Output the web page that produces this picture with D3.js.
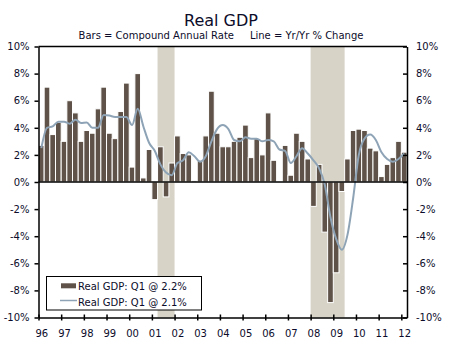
<!DOCTYPE html>
<html>
<head>
<meta charset="utf-8">
<script src="https://cdn.jsdelivr.net/npm/d3@7"></script>
<style>
  body { margin: 0; background: #fff; }
  text { font-family: Verdana, "DejaVu Sans", sans-serif; fill: #0c0c2a; }
</style>
</head>
<body>
<div id="chart"></div>
<script>
// quarterly real GDP, 1996 Q1 .. 2012 Q1
const startYear = 1996;
const years = d3.range(1996, 2013);
const yearLabels = ['96','97','98','99','00','01','02','03','04','05','06','07','08','09','10','11','12'];

// compound annual rate (bars)
const barValues = [
  2.7, 7.0, 3.5, 4.4,   // 96
  3.0, 6.0, 5.1, 3.0,   // 97
  3.8, 3.6, 5.4, 7.0,   // 98
  3.6, 3.2, 5.2, 7.3,   // 99
  1.1, 8.0, 0.3, 2.4,   // 00
  -1.3, 2.6, -1.1, 1.4, // 01
  3.4, 2.1, 2.0, 0.1,   // 02
  1.6, 3.4, 6.7, 3.6,   // 03
  2.6, 2.6, 3.0, 3.3,   // 04
  4.2, 1.8, 3.2, 2.0,   // 05
  5.1, 1.6, 0.0, 2.7,   // 06
  0.5, 3.6, 3.0, 1.7,   // 07
  -1.8, 1.3, -3.7, -8.9,// 08
  -6.7, -0.7, 1.7, 3.8, // 09
  3.9, 3.8, 2.5, 2.3,   // 10
  0.4, 1.3, 1.8, 3.0,   // 11
  2.2                   // 12
];

// year over year % change (line)
const lineValues = [
  2.5, 4.0, 4.1, 4.45,
  4.45, 4.3, 4.6, 4.35,
  4.4, 4.0, 4.0, 4.95,
  4.9, 4.8, 4.8, 4.8,
  4.2, 5.4, 4.1, 2.9,
  2.3, 1.3, 0.7, 0.5,
  1.4, 1.6, 2.2, 1.9,
  1.5, 1.9, 3.0, 3.9,
  4.2, 3.9, 3.1, 3.0,
  3.3, 3.2, 3.2, 3.0,
  3.1, 3.0, 2.4, 2.3,
  1.4, 1.9, 2.5, 2.1,
  1.6, 1.0, -0.2, -2.6,
  -4.2, -5.0, -3.9, -1.2,
  2.0, 3.2, 3.5, 3.1,
  2.2, 1.7, 1.5, 1.7,
  2.1
];

// recessions: first and last quarter index shaded
const recessions = [[21, 23], [48, 53]];

const yTicks = d3.range(-10, 11, 2);
const legendLabels = ['Real GDP: Q1 @ 2.2%', 'Real GDP: Q1 @ 2.1%'];

const width = 471, height = 350;
const margin = {top: 46.5, right: 64, bottom: 32.5, left: 38.5};

const barColor = '#5f5248';
const lineColor = '#8ea4b6';
const shadeColor = '#d7d3c7';

const svg = d3.select('#chart').append('svg')
  .attr('width', width)
  .attr('height', height);

const nq = barValues.length;
const xScale = d3.scaleLinear()
  .domain([startYear, startYear + nq / 4])
  .range([margin.left, width - margin.right]);
const yScale = d3.scaleLinear()
  .domain([-10, 10])
  .range([height - margin.bottom, margin.top]);

const qStart = i => xScale(startYear + i / 4);
const qw = qStart(1) - qStart(0);

// recession shading
svg.append('g')
  .selectAll('rect')
  .data(recessions)
  .join('rect')
  .attr('x', d => qStart(d[0]))
  .attr('width', d => qStart(d[1] + 1) - qStart(d[0]))
  .attr('y', yScale(10))
  .attr('height', yScale(-10) - yScale(10))
  .attr('fill', shadeColor);

// bars
svg.append('g')
  .selectAll('rect')
  .data(barValues)
  .join('rect')
  .attr('x', (d, i) => qStart(i))
  .attr('width', qw)
  .attr('y', d => yScale(Math.max(0, d)))
  .attr('height', d => Math.abs(yScale(d) - yScale(0)))
  .attr('fill', barColor)
  .attr('stroke', '#fff')
  .attr('stroke-width', 1);

// line
const line = d3.line()
  .x((d, i) => qStart(i) + qw / 2)
  .y(d => yScale(d))
  .curve(d3.curveMonotoneX);

svg.append('path')
  .datum(lineValues)
  .attr('d', line)
  .attr('fill', 'none')
  .attr('stroke', lineColor)
  .attr('stroke-width', 2);

// zero line and top frame
svg.append('line')
  .attr('x1', margin.left).attr('x2', width - margin.right)
  .attr('y1', yScale(0)).attr('y2', yScale(0))
  .attr('stroke', '#000').attr('stroke-width', 1.5);
svg.append('line')
  .attr('x1', margin.left).attr('x2', width - margin.right)
  .attr('y1', yScale(10)).attr('y2', yScale(10))
  .attr('stroke', '#000').attr('stroke-width', 1.5);

// axes
const fmt = d => d + '%';
function styleAxis(g) {
  g.select('.domain').attr('stroke', '#000').attr('stroke-width', 1.5);
  g.selectAll('.tick line').attr('stroke', '#000').attr('stroke-width', 1.5);
  g.selectAll('text').style('font-size', '10px')
    .style('font-family', 'Verdana, "DejaVu Sans", sans-serif').attr('fill', '#0c0c2a');
}

svg.append('g')
  .attr('transform', `translate(${margin.left},0)`)
  .call(d3.axisLeft(yScale).tickValues(yTicks).tickFormat(fmt).tickSizeInner(4).tickSizeOuter(0).tickPadding(5))
  .call(styleAxis);

svg.append('g')
  .attr('transform', `translate(${width - margin.right},0)`)
  .call(d3.axisRight(yScale).tickValues(yTicks).tickFormat(fmt).tickSizeInner(-4).tickSizeOuter(0).tickPadding(9))
  .call(styleAxis);

const xAxis = svg.append('g')
  .attr('transform', `translate(0,${yScale(-10)})`)
  .call(d3.axisBottom(xScale).tickValues(years).tickFormat((d, i) => yearLabels[i]).tickSizeInner(3).tickSizeOuter(0).tickPadding(9))
  .call(styleAxis);
xAxis.selectAll('.tick line').attr('y1', -3).attr('y2', 3);
xAxis.selectAll('.tick text').attr('dx', qw / 2);

// titles
svg.append('text')
  .attr('x', 221).attr('y', 26)
  .attr('text-anchor', 'middle')
  .style('font-size', '16px')
  .text('Real GDP');
svg.append('text')
  .attr('x', 221).attr('y', 39)
  .attr('text-anchor', 'middle')
  .style('font-size', '10px')
  .attr('xml:space', 'preserve')
  .text('Bars = Compound Annual Rate     Line = Yr/Yr % Change');

// legend
const legend = svg.append('g');
legend.append('rect')
  .attr('x', 46.5).attr('y', 276.5)
  .attr('width', 155).attr('height', 33.5)
  .attr('fill', '#fff').attr('stroke', '#000').attr('stroke-width', 1);
legend.append('rect')
  .attr('x', 61).attr('y', 283.3)
  .attr('width', 15).attr('height', 5)
  .attr('fill', barColor);
legend.append('line')
  .attr('x1', 60).attr('x2', 77)
  .attr('y1', 300.5).attr('y2', 300.5)
  .attr('stroke', lineColor).attr('stroke-width', 1.5);
legend.selectAll('text.lab')
  .data(legendLabels)
  .join('text')
  .attr('class', 'lab')
  .attr('x', 78)
  .attr('y', (d, i) => 290 + i * 15.5)
  .style('font-size', '10px')
  .text(d => d);
</script>
</body>
</html>
